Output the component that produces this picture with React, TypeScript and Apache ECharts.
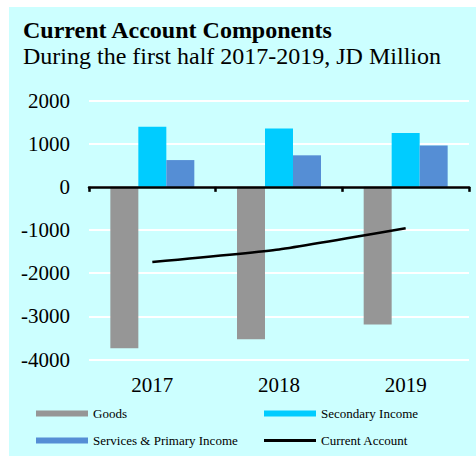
import React, { useEffect, useRef } from "react";
import * as echarts from "echarts";

const categories = ["2017", "2018", "2019"];
const goods = [-3740, -3530, -3190];
const secondaryIncome = [1390, 1350, 1250];
const servicesPrimary = [620, 730, 960];
const currentAccount = [-1740, -1450, -960];

const FONT = "Liberation Serif";

export default function App() {
  const ref = useRef<HTMLDivElement>(null);
  useEffect(() => {
    const chart = echarts.init(ref.current!, null, { renderer: "svg" });
    const legendBase = {
      orient: "horizontal" as const,
      itemWidth: 52,
      itemHeight: 6,
      itemGap: 5,
      padding: 0,
      textStyle: { fontFamily: FONT, fontSize: 13, color: "#000" },
      selectedMode: false,
    };
    chart.setOption({
      animation: false,
      graphic: [
        {
          type: "rect",
          left: 9,
          top: 7,
          shape: { x: 0, y: 0, width: 467, height: 449 },
          style: { fill: "#CCFFFF" },
          z: -10,
          silent: true,
        },
        {
          type: "text",
          left: 23,
          top: 18,
          style: {
            text: "Current Account Components",
            fontFamily: FONT,
            fontWeight: "bold",
            fontSize: 24,
            fill: "#000",
          },
        },
        {
          type: "text",
          left: 23,
          top: 44,
          style: {
            text: "During the first half 2017-2019, JD Million",
            fontFamily: FONT,
            fontSize: 24,
            fill: "#000",
          },
        },
      ],
      grid: { left: 89, right: 7, top: 100.5, bottom: 96.5, containLabel: false },
      xAxis: [
        {
          type: "category",
          data: categories,
          axisLine: { onZero: true, lineStyle: { color: "#000", width: 2.5 } },
          axisTick: { show: true, inside: false, length: 5, lineStyle: { color: "#000", width: 2.5 } },
          axisLabel: { show: false },
          splitLine: { show: false },
          z: 10,
        },
        {
          type: "category",
          data: categories,
          position: "bottom",
          axisLine: { show: false, onZero: false },
          axisTick: { show: false },
          axisLabel: { fontFamily: FONT, fontSize: 21, color: "#000", margin: 15 },
          splitLine: { show: false },
        },
      ],
      yAxis: {
        type: "value",
        min: -4000,
        max: 2000,
        interval: 1000,
        axisLine: { show: false },
        axisTick: { show: false },
        axisLabel: {
          fontFamily: FONT,
          fontSize: 21,
          color: "#000",
          margin: 19,
          formatter: (v: number) => String(v),
        },
        splitLine: { lineStyle: { color: "#FFFFFF", width: 2 } },
      },
      legend: [
        { ...legendBase, left: 36, top: 407, data: [{ name: "Goods", icon: "rect" }] },
        { ...legendBase, left: 264, top: 407, data: [{ name: "Secondary Income", icon: "rect" }] },
        { ...legendBase, left: 36, top: 434, data: [{ name: "Services & Primary Income", icon: "rect" }] },
        {
          ...legendBase,
          left: 264,
          top: 434,
          itemHeight: 3,
          data: [{ name: "Current Account", icon: "rect" }],
        },
      ],
      series: [
        {
          name: "Goods",
          type: "bar",
          data: goods,
          barGap: "0%",
          barCategoryGap: "33.7%",
          itemStyle: { color: "#969696" },
        },
        {
          name: "Secondary Income",
          type: "bar",
          data: secondaryIncome,
          itemStyle: { color: "#00CCFF" },
        },
        {
          name: "Services & Primary Income",
          type: "bar",
          data: servicesPrimary,
          itemStyle: { color: "#558ED5" },
        },
        {
          name: "Current Account",
          type: "line",
          data: currentAccount,
          smooth: 0.15,
          symbol: "none",
          lineStyle: { color: "#000", width: 2.5 },
          itemStyle: { color: "#000" },
          z: 5,
        },
      ],
    });
    return () => chart.dispose();
  }, []);
  return (
    <div
      ref={ref}
      style={{ position: "absolute", left: 0, top: 0, width: 476, height: 456, background: "#fff" }}
    />
  );
}
